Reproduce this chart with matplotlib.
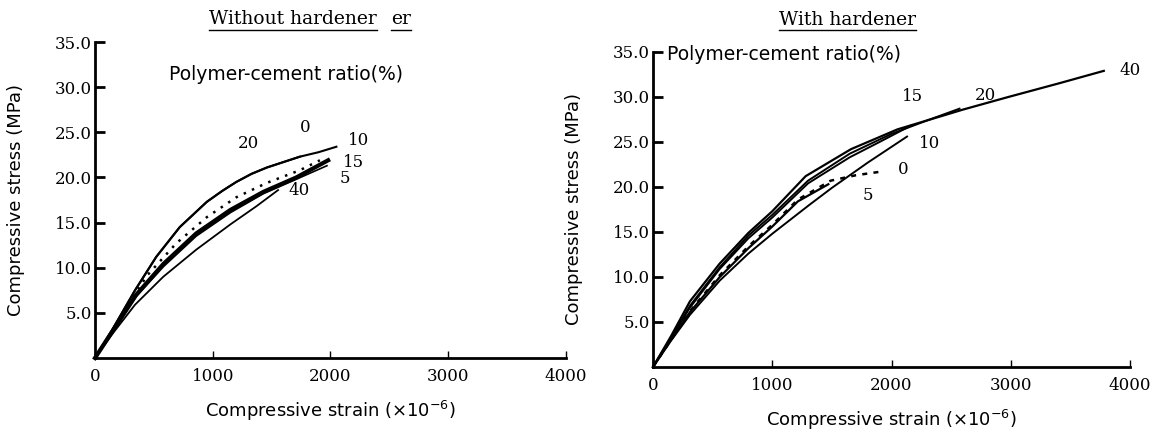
import matplotlib
matplotlib.use("Agg")
import matplotlib.pyplot as plt
from matplotlib.lines import Line2D

# Without hardener (strain x10^-6, stress MPa)
wo_0_x = [0, 150, 440, 690, 950, 1200, 1460, 1740, 1910]
wo_0_y = [0, 3.1, 9.1, 12.7, 15.6, 17.8, 19.4, 20.8, 21.9]
wo_5_x = [0, 150, 350, 580, 860, 1150, 1430, 1710, 1970]
wo_5_y = [0, 2.9, 6.8, 10.1, 13.5, 16.1, 18.2, 19.8, 21.3]
wo_10_x = [0, 150, 340, 520, 720, 950, 1080, 1200, 1330, 1460, 1600, 1740, 1900, 2050]
wo_10_y = [0, 3.2, 7.5, 11.2, 14.5, 17.3, 18.5, 19.5, 20.4, 21.1, 21.7, 22.3, 22.8, 23.4]
wo_15_x = [0, 150, 350, 580, 860, 1150, 1430, 1710, 1980]
wo_15_y = [0, 3.0, 7.0, 10.4, 13.8, 16.4, 18.4, 20.0, 21.9]
wo_20_x = [0, 150, 340, 520, 720, 950, 1080, 1200, 1330, 1460, 1600, 1740]
wo_20_y = [0, 3.2, 7.5, 11.2, 14.5, 17.3, 18.5, 19.5, 20.4, 21.1, 21.7, 22.3]
wo_40_x = [0, 150, 340, 580, 860, 1150, 1370, 1555]
wo_40_y = [0, 2.7, 5.9, 9.0, 12.0, 14.8, 16.8, 18.6]

# With hardener
wi_0_x = [0, 150, 310, 560, 800, 1000, 1215, 1490, 1700, 1910]
wi_0_y = [0, 3.0, 6.2, 10.2, 13.4, 15.8, 18.6, 20.7, 21.3, 21.7]
wi_5_x = [0, 150, 310, 560, 800, 1000, 1215, 1470]
wi_5_y = [0, 3.0, 6.1, 10.0, 13.2, 15.6, 18.4, 20.3]
wi_10_x = [0, 150, 310, 560, 800, 1000, 1310, 1500, 1800, 2130]
wi_10_y = [0, 2.9, 5.8, 9.6, 12.6, 14.8, 18.0, 19.9, 22.7, 25.6]
wi_15_x = [0, 150, 310, 560, 800, 1000, 1300, 1650, 1900, 2160]
wi_15_y = [0, 3.2, 6.6, 10.9, 14.3, 16.6, 20.4, 23.3, 25.0, 26.8]
wi_20_x = [0, 150, 310, 560, 800, 1000, 1300, 1650, 2000, 2300, 2570]
wi_20_y = [0, 3.2, 6.8, 11.1, 14.6, 16.9, 20.7, 23.7, 25.9, 27.4, 28.7]
wi_40_x = [0, 150, 310, 560, 800, 1000, 1280, 1660, 2050, 2600, 2980, 3400, 3780]
wi_40_y = [0, 3.4, 7.3, 11.5, 14.9, 17.3, 21.2, 24.2, 26.4, 28.6, 30.0, 31.5, 32.9]

wo_labels = ["0", "20", "10", "15", "5", "40"]
wo_label_x = [1741, 1215, 2150, 2107, 2081, 1640]
wo_label_y = [25.5, 23.8, 24.1, 21.7, 19.9, 18.6]
wi_labels = ["40", "20", "15", "10", "0", "5"]
wi_label_x = [3910, 2700, 2085, 2226, 2053, 1755]
wi_label_y = [32.9, 30.2, 30.0, 24.8, 21.9, 19.1]

xticks = [0, 1000, 2000, 3000, 4000]
yticks = [5, 10, 15, 20, 25, 30, 35]

serif = "DejaVu Serif"
sans = "DejaVu Sans"

fig = plt.figure(figsize=(11.57, 4.40), dpi=100)
ax1 = fig.add_axes([0.0821, 0.1864, 0.4071, 0.7181])
ax2 = fig.add_axes([0.5644, 0.166, 0.4123, 0.7159])


def style(ax):
    ax.set_xlim(0, 4000)
    ax.set_ylim(0, 35)
    for s in ["top", "right"]:
        ax.spines[s].set_visible(False)
    for s in ["left", "bottom"]:
        ax.spines[s].set_linewidth(2)
    ax.set_xticks(xticks)
    ax.set_xticklabels([str(t) for t in xticks], family=serif, fontsize=12)
    ax.set_yticks(yticks)
    ax.set_yticklabels(["%.1f" % t for t in yticks], family=serif, fontsize=12)
    ax.tick_params(axis="y", direction="in", length=7, width=2, pad=2)
    ax.tick_params(axis="x", direction="in", length=5, width=1, pad=7)
    ax.set_xlabel("Compressive strain ($\\times 10^{-6}$)", family=sans, fontsize=13, labelpad=10)
    ax.set_ylabel("Compressive stress (MPa)", family=sans, fontsize=13, labelpad=22)


style(ax1)
style(ax2)

kw = dict(color="black", clip_on=False)
ax1.plot(wo_10_x, wo_10_y, lw=1.5, **kw)
ax1.plot(wo_20_x, wo_20_y, lw=1.5, **kw)
ax1.plot(wo_0_x, wo_0_y, lw=1.8, ls=(0, (1.0, 2.6)), **kw)
ax1.plot(wo_15_x, wo_15_y, lw=3.0, **kw)
ax1.plot(wo_5_x, wo_5_y, lw=1.2, **kw)
ax1.plot(wo_40_x, wo_40_y, lw=1.3, **kw)
for t, x, y in zip(wo_labels, wo_label_x, wo_label_y):
    ax1.text(x, y, t, family=serif, fontsize=12, ha="left", va="center")

ax2.plot(wi_40_x, wi_40_y, lw=1.6, **kw)
ax2.plot(wi_20_x, wi_20_y, lw=1.4, **kw)
ax2.plot(wi_15_x, wi_15_y, lw=1.4, **kw)
ax2.plot(wi_10_x, wi_10_y, lw=1.4, **kw)
ax2.plot(wi_5_x, wi_5_y, lw=1.6, **kw)
ax2.plot(wi_0_x, wi_0_y, lw=1.8, ls=(0, (2, 2.5)), **kw)
for t, x, y in zip(wi_labels, wi_label_x, wi_label_y):
    ax2.text(x, y, t, family=serif, fontsize=12, ha="left", va="center")

ax1.text(1626, 31.4, "Polymer-cement ratio(%)", family=sans, fontsize=13.5,
         ha="center", va="center")
ax2.text(117, 34.7, "Polymer-cement ratio(%)", family=sans, fontsize=13.5,
         ha="left", va="center")

t1 = ax1.text(1680, 37.5, "Without hardener", family=serif, fontsize=13.5,
              ha="center", va="center")
t1b = ax1.text(2600, 37.5, "er", family=serif, fontsize=13.5, ha="center", va="center")
t2 = ax2.text(1630, 38.6, "With hardener", family=serif, fontsize=13.5,
              ha="center", va="center")

# underline the titles
fig.canvas.draw()
r = fig.canvas.get_renderer()
for t in (t1, t1b, t2):
    bb = t.get_window_extent(r).transformed(fig.transFigure.inverted())
    fig.add_artist(Line2D([bb.x0, bb.x1], [bb.y0 - 0.004, bb.y0 - 0.004],
                          transform=fig.transFigure, color="black", lw=1))

fig.savefig("out.png", dpi=100)
